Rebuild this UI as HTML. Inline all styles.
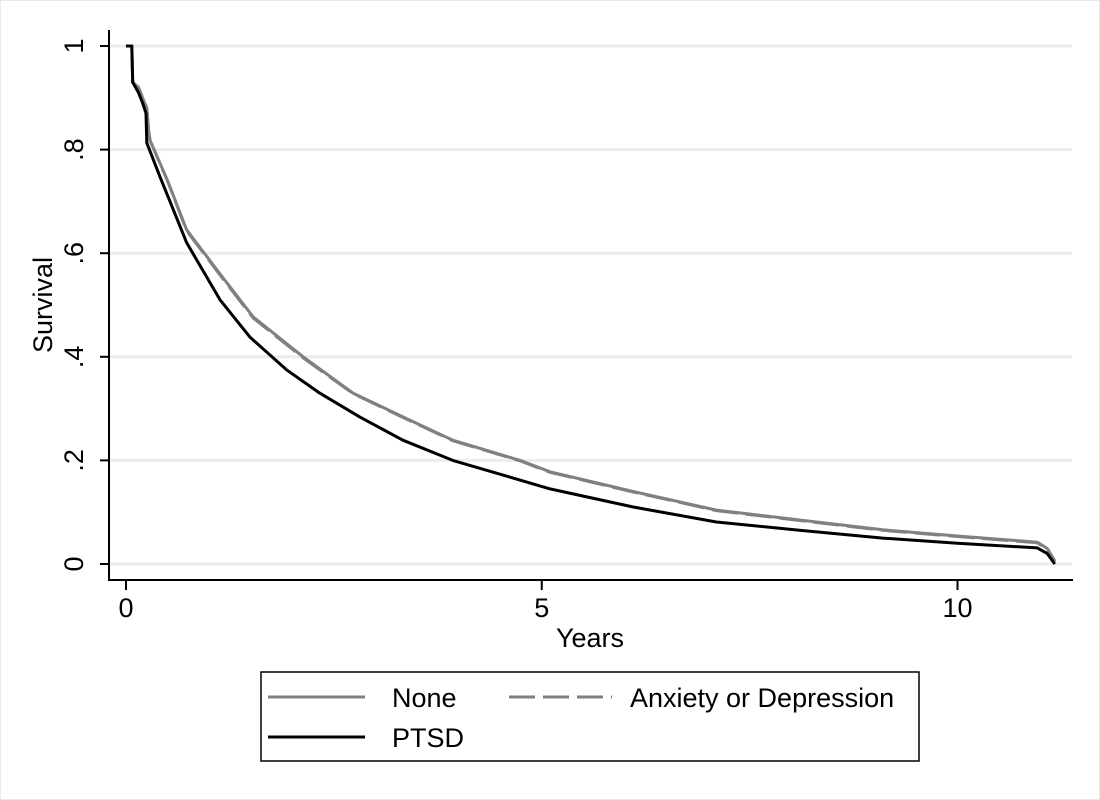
<!DOCTYPE html>
<html><head><meta charset="utf-8"><style>
html,body{margin:0;padding:0;background:#fff}
svg{display:block;font-family:"Liberation Sans",Arial,sans-serif}
</style></head><body>
<svg id="chart" width="1100" height="800">
<rect x="0.5" y="0.5" width="1099" height="799" fill="#fff" stroke="#e3ecee"/>
<g id="grid"></g>
<g id="axes"></g>
<g id="series"></g>
<text x="52" y="305" font-size="27" text-anchor="middle" transform="rotate(-90 52 305)">Survival</text>
<text x="590" y="647" font-size="27" text-anchor="middle">Years</text>
<g>
<rect x="261" y="672" width="658" height="89" fill="#fff" stroke="#000" stroke-width="1.5"/>
<line x1="268" y1="697" x2="365" y2="697" stroke="#808080" stroke-width="3"/>
<text x="392" y="707" font-size="27">None</text>
<line x1="509" y1="697" x2="612" y2="697" stroke="#808080" stroke-width="3" stroke-dasharray="26,8"/>
<text x="630" y="707" font-size="27">Anxiety or Depression</text>
<line x1="268" y1="737" x2="365" y2="737" stroke="#000" stroke-width="3"/>
<text x="392" y="747" font-size="27">PTSD</text>
</g>
</svg>
<script>
const xTicks=[0,5,10];
const yTicks=[0,0.2,0.4,0.6,0.8,1];
const yTickLabels=["0",".2",".4",".6",".8","1"];
const noneT=[0,0.07,0.08,0.15,0.2,0.25,0.27,0.29,0.5,0.73,1.13,1.53,2.13,2.73,3.33,3.93,4.74,5.1,6.1,7.1,8.1,9.1,10,10.96,11.08,11.17];
const noneS=[1,1,0.93,0.92,0.9,0.88,0.84,0.818,0.74,0.645,0.56,0.477,0.4,0.33,0.284,0.239,0.2,0.178,0.14,0.104,0.085,0.066,0.054,0.042,0.03,0.006];
const anxT=[0,0.07,0.08,0.15,0.2,0.25,0.27,0.29,0.5,0.73,1.13,1.53,2.13,2.73,3.33,3.93,4.74,5.1,6.1,7.1,8.1,9.1,10,10.96,11.08,11.17];
const anxS=[1,1,0.93,0.92,0.9,0.88,0.84,0.817,0.739,0.643,0.558,0.475,0.398,0.329,0.283,0.238,0.199,0.177,0.139,0.103,0.084,0.065,0.053,0.041,0.028,0.004];
const ptsdT=[0,0.07,0.08,0.15,0.2,0.24,0.25,0.41,0.73,1.13,1.49,1.93,2.33,2.81,3.33,3.93,5.1,6.1,7.1,8.1,9.1,10,10.96,11.08,11.17];
const ptsdS=[1,1,0.93,0.91,0.89,0.87,0.813,0.747,0.62,0.51,0.438,0.375,0.33,0.284,0.239,0.2,0.145,0.11,0.081,0.065,0.05,0.04,0.031,0.02,0];
const NS="http://www.w3.org/2000/svg";
const xs=t=>126+t*83.15;
const ys=v=>564-v*518;
function mk(tag,attrs,parent){const e=document.createElementNS(NS,tag);for(const k in attrs)e.setAttribute(k,attrs[k]);parent.appendChild(e);return e;}
const grid=document.getElementById('grid'),axes=document.getElementById('axes'),series=document.getElementById('series');
yTicks.forEach((v,i)=>{
 const g=mk('line',{x1:110,x2:1072,y1:ys(v),y2:ys(v),stroke:'#e6eeee','stroke-width':3},grid);
 
 
 const t=mk('line',{x1:100,x2:109,y1:ys(v),y2:ys(v),stroke:'#000','stroke-width':2},axes);
 
 
 const l=mk('text',{x:0,y:0,'font-size':27,'text-anchor':'middle',transform:`translate(83 ${ys(v)}) rotate(-90)`},axes);
 l.textContent=yTickLabels[i];
 
 
});
xTicks.forEach(v=>{
 const t=mk('line',{x1:xs(v),x2:xs(v),y1:580,y2:590,stroke:'#000','stroke-width':2},axes);
 
 
 const l=mk('text',{x:xs(v),y:617,'font-size':27,'text-anchor':'middle'},axes);
 l.textContent=String(v);
 
 
});
const ya=mk('line',{x1:109,x2:109,y1:30,y2:581,stroke:'#000','stroke-width':2},axes);


const xa=mk('line',{x1:108,x2:1073,y1:580,y2:580,stroke:'#000','stroke-width':2},axes);


function path(T,S){return T.map((t,i)=>(i?'L':'M')+xs(t).toFixed(1)+' '+ys(S[i]).toFixed(1)).join(' ');}
const p1=mk('path',{d:path(noneT,noneS),fill:'none',stroke:'#808080','stroke-width':3,'stroke-linejoin':'round'},series);


const p2=mk('path',{d:path(anxT,anxS),fill:'none',stroke:'#808080','stroke-width':3,'stroke-dasharray':'26,8'},series);


const p3=mk('path',{d:path(ptsdT,ptsdS),fill:'none',stroke:'#000','stroke-width':3,'stroke-linejoin':'round'},series);


</script>
</body></html>
